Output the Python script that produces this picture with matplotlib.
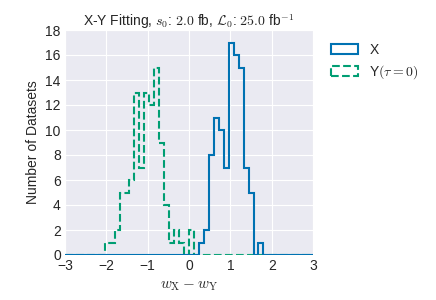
import numpy as np
import matplotlib
matplotlib.use("Agg")
import matplotlib.pyplot as plt
import seaborn as sns

# histogram setup: 50 bins on [-3, 3]
bin_edges = np.linspace(-3, 3, 51)
bin_centers = 0.5 * (bin_edges[:-1] + bin_edges[1:])

# counts per bin (bins not listed are 0)
x_first_bin = 27   # bin [0.24, 0.36]
x_counts = [1, 2, 8, 11, 10, 7, 17, 16, 15, 7, 5, 0, 1]
y_first_bin = 8    # bin [-2.04, -1.92]
y_counts = [1, 1, 2, 5, 5, 6, 13, 7, 13, 12, 15, 9, 4, 1, 2, 1, 0, 2]

def full_counts(first, counts):
    w = np.zeros(len(bin_centers))
    w[first:first + len(counts)] = counts
    return w

sns.set_style("darkgrid")
plt.rcParams['font.family'] = ['Liberation Sans', 'DejaVu Sans']
plt.rcParams['mathtext.fontset'] = 'cm'

fig = plt.figure(figsize=(4.36, 3.0), dpi=100)
ax = fig.add_axes([0.149, 0.15, 0.569, 0.75])

blue = "#0072B2"
green = "#009E73"

ax.hist(bin_centers, bins=bin_edges, weights=full_counts(x_first_bin, x_counts),
        histtype='step', color=blue, lw=1.5, label='X', zorder=3)
ax.hist(bin_centers, bins=bin_edges, weights=full_counts(y_first_bin, y_counts),
        histtype='step', color=green, lw=1.5, ls='--', label=r'Y$(\tau=0)$', zorder=2)

ax.set_xlim(-3, 3)
ax.set_ylim(0, 18)
ax.set_xticks(range(-3, 4))
ax.set_yticks(range(0, 19, 2))
ax.tick_params(labelsize=10, length=0, pad=3)
ax.set_xlabel(r'$w_\mathrm{X} - w_\mathrm{Y}$', fontsize=11)
ax.set_ylabel('Number of Datasets', fontsize=10)
ax.set_title(r'X-Y Fitting, $s_0$: $2.0$ fb, $\mathcal{L}_0$: $25.0$ fb$^{-1}$',
             fontsize=10, pad=3)
ax.legend(loc='upper left', bbox_to_anchor=(1.02, 1.0), frameon=False, fontsize=10)

plt.savefig("out.png", dpi=100)
